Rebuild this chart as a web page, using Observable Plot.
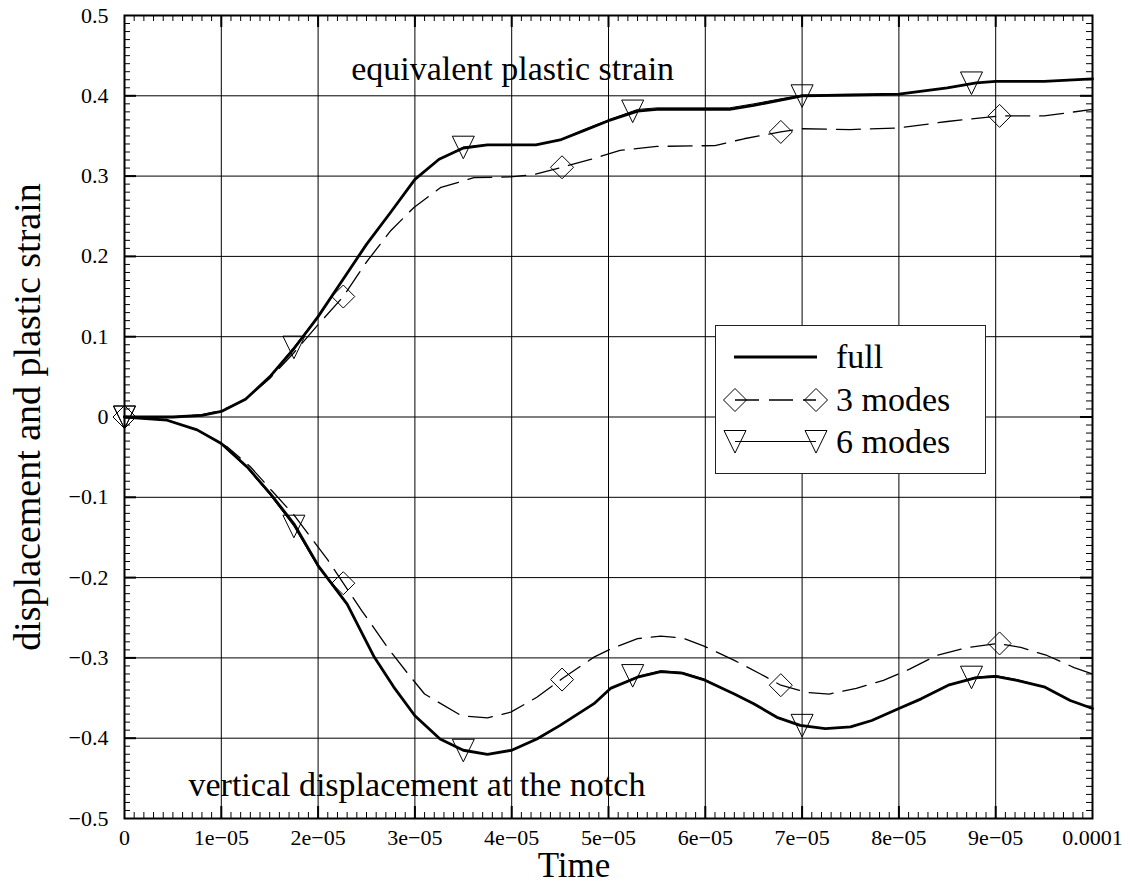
<!DOCTYPE html>
<html><head><meta charset="utf-8">
<script src="https://cdn.jsdelivr.net/npm/d3@7"></script>
<script src="https://cdn.jsdelivr.net/npm/@observablehq/plot@0.6"></script>
<style>
body{margin:0;background:#fff;}
#wrap{position:relative;width:1130px;height:886px;font-family:"Liberation Serif","Times New Roman",serif;}
#wrap svg{position:absolute;left:0;top:0;}
</style></head><body><div id="wrap"></div>
<script>
// ---- tick values / labels ----
const xTicks = [0, 1e-5, 2e-5, 3e-5, 4e-5, 5e-5, 6e-5, 7e-5, 8e-5, 9e-5, 1e-4];
const xTickLabels = ["0", "1e\u221205", "2e\u221205", "3e\u221205", "4e\u221205", "5e\u221205", "6e\u221205", "7e\u221205", "8e\u221205", "9e\u221205", "0.0001"];
const yTicks = [-0.5, -0.4, -0.3, -0.2, -0.1, 0, 0.1, 0.2, 0.3, 0.4, 0.5];
const yTickLabels = ["\u22120.5", "\u22120.4", "\u22120.3", "\u22120.2", "\u22120.1", "0", "0.1", "0.2", "0.3", "0.4", "0.5"];

// ---- full: equivalent plastic strain ----
const epsFullT = [0, 0.5e-5, 0.8e-5, 1.0e-5, 1.25e-5, 1.5e-5, 1.75e-5, 2.0e-5, 2.25e-5, 2.5e-5, 2.75e-5, 3.0e-5, 3.25e-5, 3.5e-5, 3.75e-5, 4.25e-5, 4.5e-5, 4.75e-5, 5.0e-5, 5.3e-5, 5.5e-5, 6.25e-5, 6.5e-5, 7.0e-5, 7.5e-5, 8.0e-5, 8.5e-5, 8.8e-5, 9.0e-5, 9.5e-5, 1e-4];
const epsFullV = [0, 0, 0.002, 0.007, 0.022, 0.05, 0.085, 0.125, 0.17, 0.215, 0.255, 0.296, 0.321, 0.335, 0.339, 0.339, 0.345, 0.357, 0.369, 0.381, 0.383, 0.383, 0.388, 0.400, 0.401, 0.402, 0.410, 0.416, 0.418, 0.418, 0.421];
// ---- full: vertical displacement ----
const dispFullT = [0, 0.44e-5, 0.75e-5, 1.0e-5, 1.27e-5, 1.51e-5, 1.75e-5, 2.0e-5, 2.3e-5, 2.58e-5, 2.78e-5, 3.0e-5, 3.26e-5, 3.5e-5, 3.75e-5, 4.0e-5, 4.26e-5, 4.5e-5, 4.85e-5, 5.02e-5, 5.3e-5, 5.54e-5, 5.76e-5, 5.98e-5, 6.3e-5, 6.5e-5, 6.74e-5, 6.98e-5, 7.24e-5, 7.5e-5, 7.72e-5, 8.0e-5, 8.23e-5, 8.51e-5, 8.79e-5, 9.0e-5, 9.22e-5, 9.5e-5, 9.77e-5, 1e-4];
const dispFullV = [0, -0.004, -0.016, -0.033, -0.0625, -0.096, -0.133, -0.185, -0.233, -0.299, -0.336, -0.372, -0.401, -0.415, -0.420, -0.415, -0.401, -0.384, -0.357, -0.338, -0.324, -0.317, -0.319, -0.327, -0.345, -0.357, -0.374, -0.384, -0.388, -0.386, -0.378, -0.363, -0.351, -0.334, -0.325, -0.323, -0.328, -0.336, -0.353, -0.363];

// ---- 3 modes ----
const eps3T = [0, 0.5e-5, 0.8e-5, 1.0e-5, 1.25e-5, 1.5e-5, 1.75e-5, 2.0e-5, 2.26e-5, 2.5e-5, 2.75e-5, 2.99e-5, 3.27e-5, 3.61e-5, 3.99e-5, 4.23e-5, 4.52e-5, 4.85e-5, 5.12e-5, 5.5e-5, 6.1e-5, 6.4e-5, 6.78e-5, 7.0e-5, 7.5e-5, 8.0e-5, 8.5e-5, 9.04e-5, 9.5e-5, 1e-4];
const eps3V = [0, 0, 0.003, 0.008, 0.022, 0.048, 0.08, 0.115, 0.15, 0.193, 0.232, 0.261, 0.286, 0.298, 0.299, 0.302, 0.311, 0.322, 0.332, 0.337, 0.338, 0.3465, 0.355, 0.359, 0.358, 0.360, 0.368, 0.375, 0.375, 0.383];
const disp3T = [0, 0.44e-5, 0.75e-5, 1.06e-5, 1.3e-5, 1.52e-5, 1.75e-5, 2.1e-5, 2.26e-5, 2.45e-5, 2.73e-5, 2.93e-5, 3.1e-5, 3.48e-5, 3.75e-5, 3.99e-5, 4.26e-5, 4.52e-5, 4.85e-5, 5.02e-5, 5.3e-5, 5.54e-5, 5.76e-5, 5.98e-5, 6.3e-5, 6.57e-5, 6.78e-5, 7.05e-5, 7.28e-5, 7.56e-5, 7.84e-5, 8.11e-5, 8.39e-5, 8.71e-5, 9.02e-5, 9.26e-5, 9.53e-5, 9.81e-5, 1e-4];
const disp3V = [0, -0.004, -0.016, -0.037, -0.062, -0.0915, -0.122, -0.178, -0.207, -0.241, -0.289, -0.320, -0.345, -0.372, -0.3746, -0.3676, -0.349, -0.326, -0.299, -0.289, -0.276, -0.273, -0.275, -0.285, -0.303, -0.320, -0.334, -0.343, -0.345, -0.338, -0.328, -0.314, -0.297, -0.287, -0.282, -0.287, -0.297, -0.312, -0.320];
const mark3T = [0, 2.26e-5, 4.52e-5, 6.78e-5, 9.04e-5];
const mark3EpsV = [0, 0.15, 0.311, 0.355, 0.375];
const mark3DispV = [0, -0.207, -0.327, -0.334, -0.282];

// ---- 6 modes ----
const eps6T = [0, 0.5e-5, 0.8e-5, 1.0e-5, 1.25e-5, 1.5e-5, 1.75e-5, 2.0e-5, 2.25e-5, 2.5e-5, 2.75e-5, 3.0e-5, 3.25e-5, 3.5e-5, 3.75e-5, 4.25e-5, 4.5e-5, 4.75e-5, 5.0e-5, 5.3e-5, 5.5e-5, 6.25e-5, 6.5e-5, 7.0e-5, 7.5e-5, 8.0e-5, 8.5e-5, 8.8e-5, 9.0e-5, 9.5e-5, 1e-4];
const eps6V = [0, 0, 0.002, 0.007, 0.022, 0.05, 0.087, 0.126, 0.17, 0.215, 0.255, 0.296, 0.321, 0.336, 0.339, 0.339, 0.345, 0.358, 0.370, 0.383, 0.385, 0.385, 0.390, 0.401, 0.401, 0.402, 0.410, 0.416, 0.418, 0.418, 0.421];
const disp6T = [0, 0.44e-5, 0.75e-5, 1.0e-5, 1.27e-5, 1.51e-5, 1.75e-5, 2.0e-5, 2.3e-5, 2.58e-5, 2.78e-5, 3.0e-5, 3.26e-5, 3.5e-5, 3.75e-5, 4.0e-5, 4.26e-5, 4.5e-5, 4.85e-5, 5.02e-5, 5.3e-5, 5.54e-5, 5.76e-5, 5.98e-5, 6.3e-5, 6.5e-5, 6.74e-5, 6.98e-5, 7.24e-5, 7.5e-5, 7.72e-5, 8.0e-5, 8.23e-5, 8.51e-5, 8.79e-5, 9.0e-5, 9.22e-5, 9.5e-5, 9.77e-5, 1e-4];
const disp6V = [0, -0.004, -0.016, -0.034, -0.064, -0.098, -0.136, -0.187, -0.234, -0.299, -0.336, -0.372, -0.401, -0.415, -0.420, -0.415, -0.401, -0.384, -0.357, -0.338, -0.323, -0.316, -0.318, -0.326, -0.345, -0.357, -0.374, -0.384, -0.388, -0.386, -0.378, -0.363, -0.351, -0.334, -0.324, -0.322, -0.327, -0.336, -0.353, -0.363];
const mark6T = [0, 1.75e-5, 3.5e-5, 5.25e-5, 7.0e-5, 8.75e-5];
const mark6EpsV = [0, 0.087, 0.336, 0.381, 0.400, 0.416];
const mark6DispV = [0, -0.136, -0.415, -0.322, -0.384, -0.324];

// ---- annotations ----
const annotText = ["equivalent plastic strain", "vertical displacement at the notch"];
const annotT = [2.342e-5, 0.661e-5];
const annotV = [0.4327, -0.4578];

const legendLabels = ["full", "3 modes", "6 modes"];

// ---- helpers ----
const serif = "'Liberation Serif', 'Times New Roman', serif";
const pts = (T, V) => T.map((t, i) => ({t, v: V[i]}));
const triDown = {draw(ctx, size) { const r = Math.sqrt(size / Math.PI); ctx.moveTo(-r, -r); ctx.lineTo(r, -r); ctx.lineTo(0, r * 1.05); ctx.closePath(); }};
const diamond = {draw(ctx, size) { const r = Math.sqrt(size / Math.PI); ctx.moveTo(0, -r); ctx.lineTo(r, 0); ctx.lineTo(0, r); ctx.lineTo(-r, 0); ctx.closePath(); }};

const W = 1130, H = 886, mL = 124, mR = 38, mT = 15, mB = 68;
const pw = W - mL - mR, ph = H - mT - mB;
const minorX = d3.range(0, 101).filter(i => i % 10).map(i => i * 1e-6);
const minorY = d3.range(-50, 51).filter(i => i % 10).map(i => i / 100);
const majorXInner = xTicks.slice(1, -1), majorYInner = yTicks.slice(1, -1);

const ink = "black";
const chart = Plot.plot({
  width: W, height: H, marginLeft: mL, marginRight: mR, marginTop: mT, marginBottom: mB,
  style: {fontFamily: serif, background: "white"},
  x: {domain: [0, 1e-4], axis: null},
  y: {domain: [-0.5, 0.5], axis: null},
  marks: [
    Plot.ruleX(majorXInner, {x: d => d, stroke: ink, strokeWidth: 1}),
    Plot.ruleY(majorYInner, {y: d => d, stroke: ink, strokeWidth: 1}),
    // inward minor ticks
    Plot.tickX(minorX, {x: d => d, insetTop: ph - 6, stroke: ink, strokeWidth: 1}),
    Plot.tickX(minorX, {x: d => d, insetBottom: ph - 6, stroke: ink, strokeWidth: 1}),
    Plot.tickY(minorY, {y: d => d, insetRight: pw - 6, stroke: ink, strokeWidth: 1}),
    Plot.tickY(minorY, {y: d => d, insetLeft: pw - 6, stroke: ink, strokeWidth: 1}),
    // inward major ticks
    Plot.tickX(majorXInner, {x: d => d, insetTop: ph - 12, stroke: ink, strokeWidth: 2}),
    Plot.tickX(majorXInner, {x: d => d, insetBottom: ph - 12, stroke: ink, strokeWidth: 2}),
    Plot.tickY(majorYInner, {y: d => d, insetRight: pw - 12, stroke: ink, strokeWidth: 2}),
    Plot.tickY(majorYInner, {y: d => d, insetLeft: pw - 12, stroke: ink, strokeWidth: 2}),
    // tick labels
    Plot.text(xTicks, {x: d => d, text: (d, i) => xTickLabels[i], frameAnchor: "bottom", lineAnchor: "top", dy: 11, fontSize: 22, fontFamily: serif, fill: ink}),
    Plot.text(yTicks, {y: d => d, text: (d, i) => yTickLabels[i], frameAnchor: "left", textAnchor: "end", dx: -16, fontSize: 22, fontFamily: serif, fill: ink}),
    // 3 modes
    Plot.line(pts(eps3T, eps3V), {x: "t", y: "v", stroke: ink, strokeWidth: 1.3, strokeDasharray: "24,10"}),
    Plot.line(pts(disp3T, disp3V), {x: "t", y: "v", stroke: ink, strokeWidth: 1.3, strokeDasharray: "24,10"}),
    // 6 modes
    Plot.line(pts(eps6T, eps6V), {x: "t", y: "v", stroke: ink, strokeWidth: 1}),
    Plot.line(pts(disp6T, disp6V), {x: "t", y: "v", stroke: ink, strokeWidth: 1}),
    // full
    Plot.line(pts(epsFullT, epsFullV), {x: "t", y: "v", stroke: ink, strokeWidth: 2.8}),
    Plot.line(pts(dispFullT, dispFullV), {x: "t", y: "v", stroke: ink, strokeWidth: 2.8}),
    // markers
    Plot.dot(pts(mark3T, mark3EpsV), {x: "t", y: "v", symbol: diamond, r: 11.5, fill: "none", stroke: ink, strokeWidth: 1}),
    Plot.dot(pts(mark3T, mark3DispV), {x: "t", y: "v", symbol: diamond, r: 11.5, fill: "none", stroke: ink, strokeWidth: 1}),
    Plot.dot(pts(mark6T, mark6EpsV), {x: "t", y: "v", symbol: triDown, r: 11, fill: "none", stroke: ink, strokeWidth: 1}),
    Plot.dot(pts(mark6T, mark6DispV), {x: "t", y: "v", symbol: triDown, r: 11, fill: "none", stroke: ink, strokeWidth: 1}),
    // annotations
    Plot.text(annotText.map((s, i) => ({s, t: annotT[i], v: annotV[i]})), {x: "t", y: "v", text: "s", textAnchor: "start", fontSize: 34, fontFamily: serif, fill: ink}),
    Plot.frame({stroke: ink, strokeWidth: 2})
  ]
});
const wrap = document.getElementById("wrap");
wrap.appendChild(chart);

// ---- overlay: axis titles + legend ----
const ov = d3.select(wrap).append("svg").attr("width", W).attr("height", H)
  .style("font-family", serif);
ov.append("text").attr("x", 574).attr("y", 877).attr("text-anchor", "middle").attr("font-size", 35).text("Time");
ov.append("text").attr("transform", "translate(40,417) rotate(-90)").attr("text-anchor", "middle").attr("font-size", 38).text("displacement and plastic strain");

const lg = ov.append("g");
lg.append("rect").attr("x", 715.5).attr("y", 325.5).attr("width", 270).attr("height", 148).attr("fill", "white").attr("stroke", "#222").attr("stroke-width", 1);
lg.append("line").attr("x1", 734).attr("x2", 817).attr("y1", 357).attr("y2", 357).attr("stroke", ink).attr("stroke-width", 2.8);
lg.append("line").attr("x1", 735).attr("x2", 816).attr("y1", 400).attr("y2", 400).attr("stroke", ink).attr("stroke-width", 1.3).attr("stroke-dasharray", "24,10");
lg.append("line").attr("x1", 735).attr("x2", 816).attr("y1", 441.5).attr("y2", 441.5).attr("stroke", ink).attr("stroke-width", 1);
const dpath = d3.symbol().type(diamond).size(Math.PI * 11.5 * 11.5)();
const tpath = d3.symbol().type(triDown).size(Math.PI * 11 * 11)();
[735, 816].forEach(x => {
  lg.append("path").attr("d", dpath).attr("transform", `translate(${x},400)`).attr("fill", "none").attr("stroke", ink);
  lg.append("path").attr("d", tpath).attr("transform", `translate(${x},441.5)`).attr("fill", "none").attr("stroke", ink);
});
[368, 411, 453].forEach((y, i) => {
  lg.append("text").attr("x", 836).attr("y", y).attr("font-size", 34).text(legendLabels[i]);
});
</script>
</body></html>
